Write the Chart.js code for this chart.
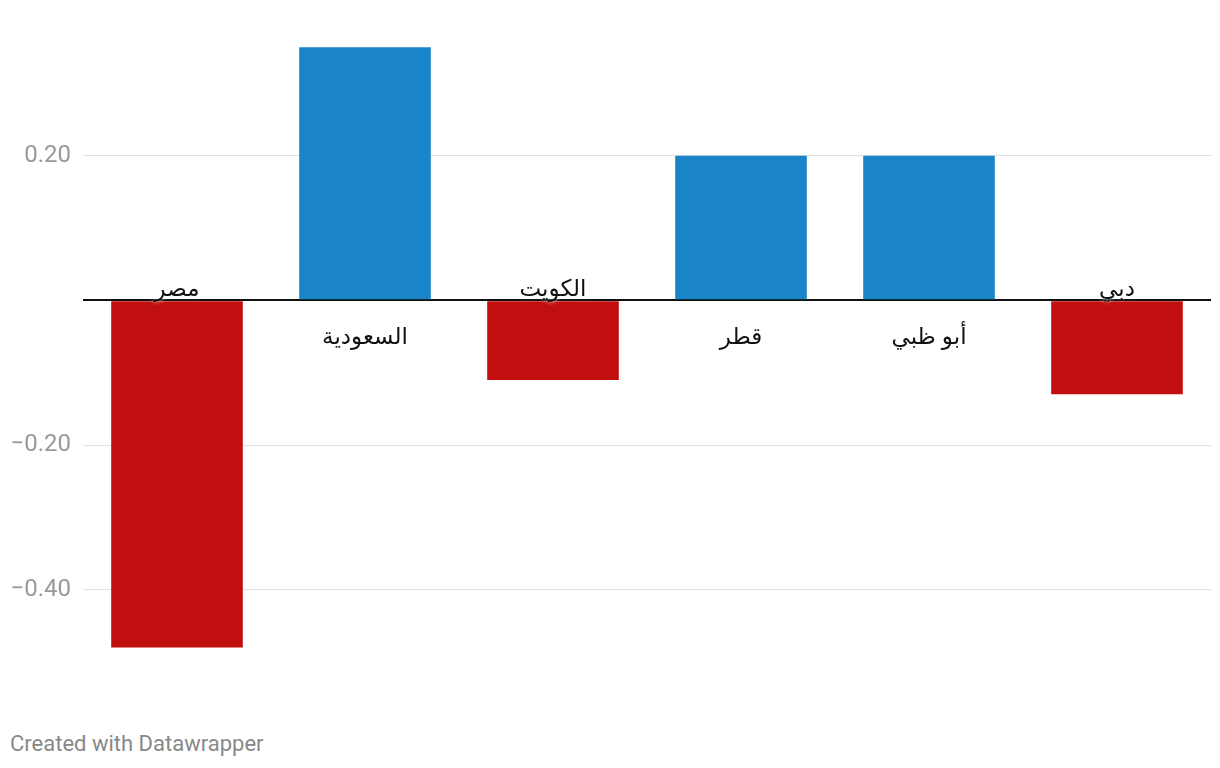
<!DOCTYPE html>
<html>
<head>
<meta charset="utf-8">
<script src="https://cdn.jsdelivr.net/npm/chart.js@4"></script>
<style>
  body { margin: 0; background: #fff; }
  #wrap { position: relative; width: 1220px; height: 700px; }
  #footer { position: absolute; left: 10px; top: 731px; font: 22px Roboto, sans-serif; color: #888; }
</style>
</head>
<body>
<div id="wrap"><canvas id="barChart"></canvas></div>
<div id="footer">Created with Datawrapper</div>
<script>
const labels = ['مصر', 'السعودية', 'الكويت', 'قطر', 'أبو ظبي', 'دبي'];
const values = [-0.48, 0.35, -0.11, 0.20, 0.20, -0.13];
const yTicks = [-0.4, -0.2, 0, 0.2];

const blue = '#1a84c8';
const red = '#c10e0e';

// labels sit on the opposite side of the zero line
const barLabels = {
    id: 'barLabels',
    afterDatasetsDraw(chart) {
        const ctx = chart.ctx;
        const zero = chart.scales.y.getPixelForValue(0);
        const meta = chart.getDatasetMeta(0);
        ctx.save();
        ctx.font = '23px "Noto Sans", "DejaVu Sans", sans-serif';
        ctx.textAlign = 'center';
        ctx.fillStyle = '#111';
        ctx.shadowColor = 'rgba(255,255,255,0.9)';
        ctx.shadowBlur = 4;
        meta.data.forEach(function(bar, i) {
            if (values[i] < 0) {
                ctx.textBaseline = 'alphabetic';
                ctx.fillText(labels[i], bar.x, zero - 4);
            } else {
                ctx.textBaseline = 'middle';
                ctx.fillText(labels[i], bar.x, zero + 37);
            }
        });
        ctx.restore();
    }
};

const ctxBar = document.getElementById('barChart').getContext('2d');
new Chart(ctxBar, {
    type: 'bar',
    data: {
        labels: labels,
        datasets: [{
            data: values,
            backgroundColor: values.map(v => v < 0 ? red : blue),
            borderWidth: 0,
            categoryPercentage: 1,
            barPercentage: 0.7
        }]
    },
    options: {
        responsive: true,
        maintainAspectRatio: false,
        animation: false,
        layout: { padding: { top: 11, bottom: 38, right: 9, left: 0 } },
        plugins: {
            legend: { display: false },
            tooltip: { enabled: false }
        },
        scales: {
            x: { display: false },
            y: {
                min: -0.5,
                max: 0.4,
                border: { display: false },
                afterBuildTicks: function(scale) {
                    scale.ticks = yTicks.map(v => ({ value: v }));
                },
                afterFit: function(scale) {
                    scale.width = 83;
                    scale.paddingTop = 0;
                    scale.paddingBottom = 0;
                },
                grid: {
                    drawTicks: false,
                    color: c => c.tick.value === 0 ? '#111' : '#e2e2e2',
                    lineWidth: c => c.tick.value === 0 ? 2 : 1
                },
                ticks: {
                    padding: 12,
                    color: '#999',
                    font: { family: 'Roboto', size: 24 },
                    callback: function(v) {
                        if (v === 0) return '';
                        return v.toFixed(2).replace('-', '\u2212');
                    }
                }
            }
        }
    },
    plugins: [barLabels]
});
</script>
</body>
</html>
